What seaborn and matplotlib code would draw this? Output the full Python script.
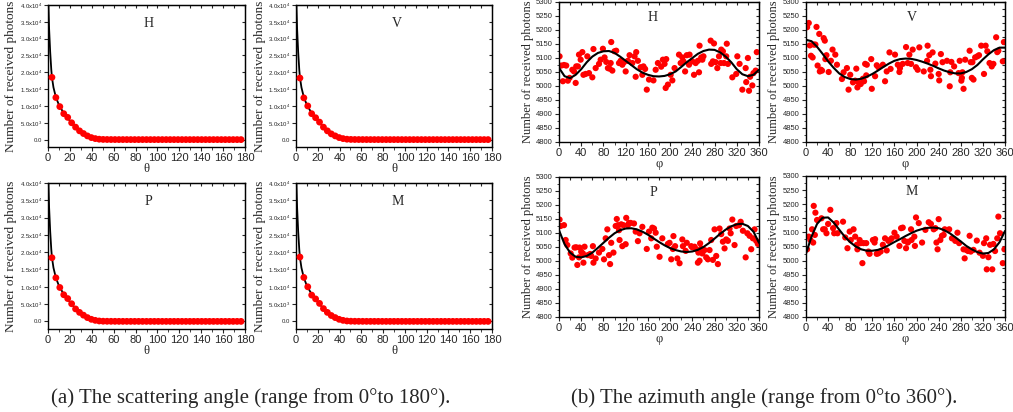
import numpy as np
import pandas as pd
import matplotlib
matplotlib.use("Agg")
import matplotlib.pyplot as plt
import matplotlib.ticker as mticker
import seaborn as sns

# ---- scattering angle (theta) data ----
theta = [3.6, 7.2, 10.8, 14.4, 18.0, 21.6, 25.2, 28.8, 32.4, 36.0, 39.6, 43.2, 46.8, 50.4,
         54.0, 57.6, 61.2, 64.8, 68.4, 72.0, 75.6, 79.2, 82.8, 86.4, 90.0, 93.6, 97.2,
         100.8, 104.4, 108.0, 111.6, 115.2, 118.8, 122.4, 126.0, 129.6, 133.2, 136.8,
         140.4, 144.0, 147.6, 151.2, 154.8, 158.4, 162.0, 165.6, 169.2, 172.8, 176.4]
tail = [30, 20, 15, 10, 8, 6, 5, 4, 3, 3, 2, 2, 2, 1, 1, 1, 1, 1, 1, 1, 1, 1, 1, 1, 1,
        1, 0, 0, 0, 0, 0, 0, 0, 0, 0]
scat_H = [18500, 12500, 9800, 7700, 6600, 5000, 3700, 2600, 1800, 1100, 600, 300, 120, 50] + tail
scat_V = [18300, 12400, 10000, 7700, 6500, 5200, 3700, 2600, 1700, 1100, 600, 300, 120, 50] + tail
scat_P = [18400, 12600, 9800, 7700, 6600, 5100, 3600, 2600, 1800, 1100, 600, 300, 120, 50] + tail
scat_M = [18600, 12700, 10000, 7600, 6500, 5200, 3700, 2600, 1700, 1100, 600, 300, 120, 50] + tail

theta_fit = [0.4, 1.0, 2.0, 3.0, 3.6, 5.0, 7.2, 10.0, 15.0, 20.0, 25.0, 30.0, 35.0, 40.0,
             45.0, 50.0, 60.0, 80.0, 120.0, 177.0]
fit_theta = [40000, 33000, 26000, 20800, 18500, 15500, 12600, 10300, 7500, 5600, 3800,
             2300, 1200, 500, 150, 40, 5, 0, 0, 0]

# ---- azimuth angle (phi) data ----
phi_H = [1, 4, 7, 9, 13, 16, 19, 24, 27, 30, 31, 34, 36, 39, 42, 44, 48, 51, 54, 60, 62, 66,
         72, 75, 79, 82, 85, 88, 91, 93, 94, 96, 100, 103, 108, 111, 114, 117, 120, 124, 127,
         132, 136, 138, 139, 142, 147, 150, 152, 155, 158, 162, 170, 174, 178, 184, 187, 190,
         192, 193, 196, 201, 204, 208, 216, 219, 222, 224, 227, 230, 234, 235, 240, 243, 246,
         250, 252, 253, 256, 258, 260, 273, 274, 277, 279, 282, 285, 288, 291, 292, 295, 297,
         301, 302, 304, 312, 319, 321, 325, 330, 336, 337, 340, 342, 344, 348, 350, 354, 356]
val_H = [5106, 5073, 5017, 5075, 5073, 5019, 5029, 5058, 5052, 5011, 5070, 5070, 5112, 5094,
         5121, 5040, 5043, 5106, 5046, 5031, 5132, 5064, 5079, 5094, 5133, 5102, 5086, 5064,
         5062, 5082, 5157, 5055, 5124, 5126, 5082, 5090, 5076, 5085, 5052, 5090, 5110, 5082,
         5106, 5033, 5121, 5090, 5067, 5040, 5070, 5061, 4987, 5023, 5020, 5058, 5082, 5069,
         5094, 5079, 4993, 5096, 5005, 5040, 5020, 5064, 5112, 5082, 5102, 5088, 5052, 5110,
         5076, 5112, 5088, 5040, 5082, 5090, 5049, 5144, 5102, 5094, 5106, 5162, 5079, 5088,
         5152, 5085, 5064, 5106, 5082, 5130, 5124, 5082, 5106, 5151, 5079, 5031, 5043, 5106,
         5079, 4987, 5064, 5014, 5100, 4983, 5033, 5002, 5046, 5055, 5121]

phi_V = [2, 5, 7, 9, 12, 14, 17, 19, 21, 24, 25, 27, 29, 32, 34, 35, 37, 41, 45, 48, 53, 56,
         65, 68, 74, 77, 80, 85, 89, 91, 93, 95, 99, 103, 105, 107, 109, 110, 118, 119, 125,
         128, 131, 139, 143, 146, 151, 153, 161, 166, 169, 170, 175, 181, 184, 187, 190, 193,
         199, 202, 205, 213, 219, 220, 223, 225, 226, 229, 234, 240, 241, 244, 247, 255, 260,
         261, 263, 268, 276, 278, 281, 282, 283, 285, 288, 296, 298, 300, 301, 303, 306, 310,
         313, 317, 322, 325, 328, 332, 336, 339, 344, 346, 348, 356, 358]
val_V = [5210, 5225, 5145, 5108, 5102, 5148, 5148, 5211, 5073, 5186, 5052, 5058, 5055, 5171,
         5162, 5096, 5110, 5050, 5090, 5130, 5112, 5076, 5025, 5049, 5064, 4987, 5040, 5013,
         5019, 5062, 4995, 5013, 5007, 5026, 5017, 5079, 5038, 5076, 5096, 4990, 5035, 5074,
         5067, 5076, 5017, 5052, 5120, 5061, 5112, 5076, 5050, 5064, 5079, 5139, 5082, 5112,
         5079, 5130, 5067, 5058, 5138, 5052, 5090, 5144, 5110, 5058, 5035, 5120, 5080, 5043,
         5020, 5114, 5085, 5090, 4999, 5049, 5086, 5070, 5046, 5090, 5019, 5029, 5049, 4990,
         5094, 5126, 5085, 5029, 5085, 5023, 5102, 5106, 5110, 5144, 5043, 5144, 5124, 5082,
         5070, 5079, 5174, 5121, 5126, 5088, 5157]

phi_P = [1, 3, 9, 12, 15, 21, 24, 28, 31, 33, 36, 37, 40, 43, 44, 46, 52, 56, 58, 61, 62, 66,
         72, 78, 81, 84, 87, 90, 92, 94, 98, 102, 104, 106, 108, 109, 112, 114, 116, 120, 121,
         124, 126, 129, 135, 138, 142, 145, 150, 158, 162, 166, 168, 171, 174, 176, 181, 186,
         196, 199, 202, 205, 206, 209, 213, 217, 222, 223, 228, 230, 238, 240, 244, 247, 250,
         251, 253, 254, 256, 258, 262, 265, 268, 271, 274, 277, 280, 283, 286, 289, 292, 295,
         298, 301, 304, 307, 309, 312, 316, 319, 324, 327, 331, 336, 339, 343, 346, 349, 352,
         355, 358]
val_P = [5148, 5125, 5128, 5075, 5057, 5027, 5012, 5048, 5049, 4986, 5013, 5048, 5033, 5027,
         4994, 5051, 5021, 5025, 5018, 5053, 4994, 5009, 5030, 5043, 5006, 5081, 5113, 5021,
         4989, 5065, 5030, 5125, 5150, 5128, 5110, 5075, 5131, 5053, 5128, 5060, 5154, 5128,
         5136, 5136, 5134, 5105, 5071, 5099, 5122, 5043, 5105, 5081, 5119, 5116, 5101, 5051,
         5015, 5081, 5061, 5065, 5006, 5043, 5089, 5053, 5009, 4992, 5077, 5053, 5036, 5065,
         5053, 5049, 5051, 5042, 4994, 5030, 5001, 5063, 5045, 5027, 5039, 5013, 5006, 5039,
         5075, 5004, 5113, 5018, 4989, 5116, 5096, 5069, 5045, 5077, 5072, 5116, 5099, 5148,
         5057, 5125, 5128, 5140, 5108, 5013, 5099, 5090, 5042, 5081, 5113, 5072, 5061]

phi_M = [2, 5, 8, 11, 13, 14, 16, 17, 20, 28, 31, 34, 37, 40, 44, 49, 51, 55, 57, 67, 71, 75,
         79, 81, 86, 89, 92, 93, 97, 99, 102, 104, 109, 113, 115, 121, 124, 125, 128, 131,
         135, 139, 143, 146, 149, 152, 155, 160, 164, 169, 172, 175, 178, 181, 184, 185, 190,
         191, 196, 197, 199, 204, 210, 216, 222, 226, 231, 234, 236, 238, 240, 243, 246, 249,
         251, 259, 264, 270, 274, 277, 285, 287, 290, 293, 296, 298, 303, 309, 314, 320, 322,
         326, 327, 330, 333, 337, 339, 342, 346, 348, 351, 356, 359]
val_M = [5040, 5085, 5073, 5111, 5064, 5194, 5091, 5170, 5144, 5150, 5111, 5111, 5097, 5130,
         5180, 5115, 5097, 5133, 5097, 5138, 5082, 5044, 5103, 5073, 5111, 5085, 5056, 5040,
         5073, 5062, 4991, 5062, 5062, 5032, 5024, 5073, 5064, 5076, 5024, 5026, 5032, 5056,
         5079, 5036, 5070, 5073, 5079, 5099, 5085, 5052, 5115, 5117, 5070, 5044, 5064, 5067,
         5111, 5073, 5085, 5052, 5153, 5133, 5064, 5109, 5136, 5130, 5111, 5115, 5064, 5040,
         5147, 5073, 5088, 5091, 5111, 5111, 5079, 5070, 5099, 5062, 5040, 5008, 5038, 5034,
         5088, 5032, 5038, 5071, 5028, 5017, 5062, 5079, 4969, 5012, 5056, 4969, 5059, 5034,
         5079, 5156, 5097, 4991, 5040]

# fitted curves read every 10 degrees
phi_fit = list(range(0, 361, 10))
fit_H = [5065, 5035, 5028, 5040, 5060, 5085, 5105, 5118, 5124, 5125, 5118, 5105, 5090, 5075,
         5060, 5048, 5040, 5035, 5034, 5036, 5042, 5052, 5068, 5085, 5100, 5115, 5125, 5130,
         5129, 5120, 5105, 5085, 5060, 5042, 5035, 5040, 5058]
fit_V = [5165, 5160, 5140, 5115, 5088, 5065, 5045, 5032, 5025, 5023, 5026, 5033, 5043, 5055,
         5068, 5080, 5090, 5096, 5098, 5097, 5093, 5087, 5080, 5072, 5063, 5055, 5049, 5045,
         5045, 5050, 5060, 5075, 5095, 5113, 5128, 5137, 5137]
fit_P = [5110, 5060, 5030, 5015, 5013, 5018, 5030, 5047, 5065, 5083, 5099, 5110, 5116, 5117,
         5113, 5105, 5094, 5081, 5068, 5056, 5046, 5039, 5034, 5032, 5034, 5040, 5050, 5064,
         5080, 5097, 5112, 5124, 5131, 5133, 5125, 5105, 5065]
fit_M = [5025, 5085, 5130, 5152, 5153, 5135, 5110, 5085, 5065, 5050, 5040, 5035, 5035, 5038,
         5045, 5055, 5066, 5076, 5087, 5097, 5106, 5112, 5116, 5117, 5115, 5108, 5097, 5083,
         5068, 5052, 5040, 5030, 5025, 5027, 5040, 5065, 5105]

W, H = 1013, 412
sns.set_style("ticks")
plt.rcParams["font.family"] = ["Liberation Sans", "DejaVu Sans"]
plt.rcParams["mathtext.fontset"] = "custom"
plt.rcParams["mathtext.rm"] = "Liberation Sans"
serif = ["Liberation Serif", "DejaVu Serif"]

fig = plt.figure(figsize=(W / 100, H / 100), dpi=100)


def rect(l, t, r, b):
    return [l / W, 1 - b / H, (r - l) / W, (b - t) / H]


def sci_fmt(v, pos):
    if abs(v) < 1e-9:
        return "0.0"
    e = int(np.floor(np.log10(abs(v))))
    return r"%.1fx10$^{%d}$" % (v / 10 ** e, e)


def style_axes(ax, xmaj, xmin, ymaj, ymin):
    for s in ax.spines.values():
        s.set_visible(True)
        s.set_linewidth(1.0)
        s.set_color("black")
    ax.xaxis.set_major_locator(mticker.MultipleLocator(xmaj))
    ax.xaxis.set_minor_locator(mticker.MultipleLocator(xmin))
    ax.yaxis.set_major_locator(mticker.MultipleLocator(ymaj))
    ax.yaxis.set_minor_locator(mticker.MultipleLocator(ymin))
    ax.tick_params(which="major", direction="out", length=3, width=0.8, pad=1.5)
    ax.tick_params(which="minor", direction="out", length=1.8, width=0.6)
    top = ax.secondary_xaxis("top")
    top.xaxis.set_major_locator(mticker.MultipleLocator(xmaj))
    top.xaxis.set_minor_locator(mticker.MultipleLocator(xmin))
    top.tick_params(which="both", direction="in", labeltop=False, length=2.5, width=0.8)
    right = ax.secondary_yaxis("right")
    right.yaxis.set_major_locator(mticker.MultipleLocator(ymaj))
    right.yaxis.set_minor_locator(mticker.MultipleLocator(ymin))
    right.tick_params(which="both", direction="in", labelright=False, length=2.5, width=0.8)


def theta_panel(box, vals, name, lab_x, ylab_x):
    ax = fig.add_axes(rect(*box))
    df = pd.DataFrame({"theta": theta, "n": vals})
    fit = pd.DataFrame({"theta": theta_fit, "n": fit_theta})
    sns.lineplot(data=fit, x="theta", y="n", color="black", lw=1.3, ax=ax)
    sns.scatterplot(data=df, x="theta", y="n", color="#ff0000", s=24, edgecolor="none",
                    ax=ax, zorder=3, clip_on=False)
    ax.set_xlim(0, 180)
    ax.set_ylim(-2200, 40000)
    style_axes(ax, 20, 10, 5000, 5000)
    ax.yaxis.set_major_formatter(mticker.FuncFormatter(sci_fmt))
    ax.tick_params(axis="x", labelsize=8)
    ax.tick_params(axis="y", labelsize=4.3, pad=1)
    ax.set_xlabel("θ", family=serif, fontsize=9, labelpad=0)
    ax.set_ylabel("Number of received photons", family=serif, fontsize=9.5)
    ax.yaxis.set_label_coords(ylab_x, 0.5)
    ax.text(lab_x, 0.87, name, transform=ax.transAxes, family=serif, fontsize=10,
            ha="center", va="center")
    return ax


def phi_panel(box, phi, vals, fit_vals, name, lab_x, ylab_x):
    ax = fig.add_axes(rect(*box))
    df = pd.DataFrame({"phi": phi, "n": vals})
    fit = pd.DataFrame({"phi": phi_fit, "n": fit_vals})
    sns.scatterplot(data=df, x="phi", y="n", color="#ff0000", s=20, edgecolor="none", ax=ax)
    sns.lineplot(data=fit, x="phi", y="n", color="black", lw=1.5, ax=ax, zorder=3)
    ax.set_xlim(0, 360)
    ax.set_ylim(4800, 5300)
    style_axes(ax, 40, 20, 50, 25)
    ax.tick_params(axis="x", labelsize=8)
    ax.tick_params(axis="y", labelsize=5.5)
    ax.set_xlabel("φ", family=serif, fontsize=9, labelpad=0)
    ax.set_ylabel("Number of received photons", family=serif, fontsize=9)
    ax.yaxis.set_label_coords(ylab_x, 0.5)
    ax.text(lab_x, 0.89, name, transform=ax.transAxes, family=serif, fontsize=10,
            ha="center", va="center")
    return ax


theta_panel((48, 5, 245, 147), scat_H, "H", 0.51, -0.158)
theta_panel((296, 5, 492, 147), scat_V, "V", 0.515, -0.155)
theta_panel((48, 183, 245, 329), scat_P, "P", 0.51, -0.158)
theta_panel((296, 183, 492, 329), scat_M, "M", 0.52, -0.155)

phi_panel((559, 2, 759, 142), phi_H, val_H, fit_H, "H", 0.47, -0.125)
phi_panel((806, 2, 1005, 142), phi_V, val_V, fit_V, "V", 0.53, -0.13)
phi_panel((559, 177, 759, 317), phi_P, val_P, fit_P, "P", 0.47, -0.125)
phi_panel((806, 176, 1005, 317), phi_M, val_M, fit_M, "M", 0.53, -0.13)

fig.text(251 / W, 1 - 398 / H, "(a) The scattering angle (range from 0°to 180°).",
         family=serif, fontsize=15, ha="center", va="center")
fig.text(764 / W, 1 - 398 / H, "(b) The azimuth angle (range from 0°to 360°).",
         family=serif, fontsize=15, ha="center", va="center")

fig.savefig("out.png", dpi=100)
